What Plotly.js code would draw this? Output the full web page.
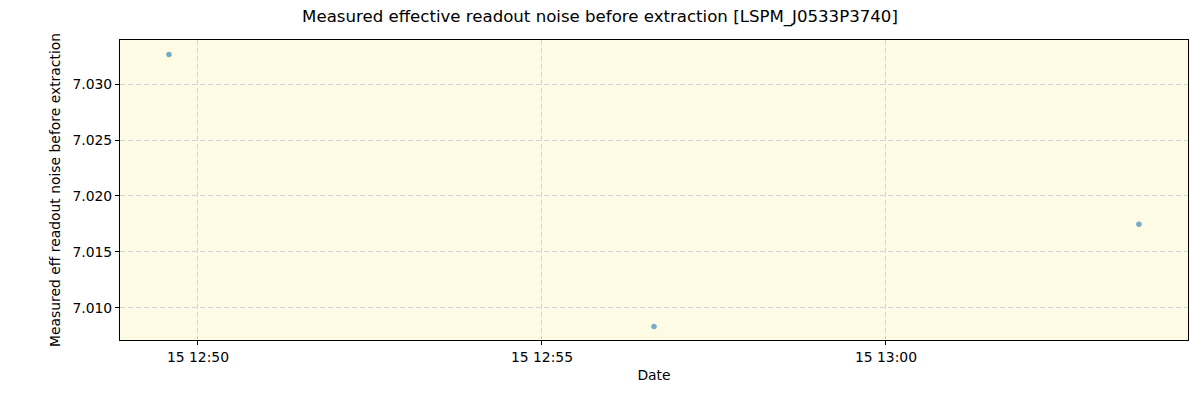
<!DOCTYPE html>
<html>
<head>
<meta charset="utf-8">
<script src="https://cdn.plot.ly/plotly-3.0.1.min.js"></script>
<style>html,body{margin:0;padding:0;background:#fff;}#chart{width:1200px;height:400px;}</style>
</head>
<body>
<div id="chart"></div>
<script>
const dates = ['2024-01-15 12:49:34.7', '2024-01-15 12:56:37.7', '2024-01-15 13:03:40.6'];
const noise = [7.03263, 7.00834, 7.01747];
const yTicks = [7.010, 7.015, 7.020, 7.025, 7.030];
const yTickLabels = ['7.010', '7.015', '7.020', '7.025', '7.030'];
const xTicks = ['2024-01-15 12:50:00', '2024-01-15 12:55:00', '2024-01-15 13:00:00'];
const xTickLabels = ['15 12:50', '15 12:55', '15 13:00'];

const font = {family: 'DejaVu Sans', size: 13.9, color: '#000'};
Plotly.newPlot('chart', [{
  x: dates, y: noise, type: 'scatter', mode: 'markers',
  marker: {color: 'rgba(31,119,180,0.6)', size: 5.5, line: {width: 0}},
  hoverinfo: 'x+y'
}], {
  width: 1200, height: 400,
  margin: {l: 120, r: 12, t: 40, b: 60},
  paper_bgcolor: '#ffffff', plot_bgcolor: '#fdfbe3',
  font: font,
  title: {text: 'Measured effective readout noise before extraction [LSPM_J0533P3740]', x: 0.5, xanchor: 'center', y: 0.96, yanchor: 'middle', font: {family: 'DejaVu Sans', size: 16.6, color: '#000'}},
  xaxis: {
    type: 'date', range: ['2024-01-15 12:48:52', '2024-01-15 13:04:23.4'],
    tickmode: 'array', tickvals: xTicks, ticktext: xTickLabels,
    showgrid: true, gridcolor: '#d0d3da', griddash: '5px,3px', gridwidth: 1,
    ticks: 'outside', ticklen: 4, tickcolor: '#000', tickfont: font,
    showline: true, linecolor: '#000', linewidth: 1, mirror: true, zeroline: false,
    title: {text: 'Date', font: font, standoff: 6}
  },
  yaxis: {
    range: [7.00714, 7.03393],
    tickmode: 'array', tickvals: yTicks, ticktext: yTickLabels,
    showgrid: true, gridcolor: '#d0d3da', griddash: '5px,3px', gridwidth: 1,
    ticks: 'outside', ticklen: 4, tickcolor: '#000', tickfont: font,
    showline: true, linecolor: '#000', linewidth: 1, mirror: true, zeroline: false,
    title: {text: 'Measured eff readout noise before extraction', font: font, standoff: 8}
  },
  showlegend: false
}, {displayModeBar: false, staticPlot: true});
</script>
</body>
</html>
